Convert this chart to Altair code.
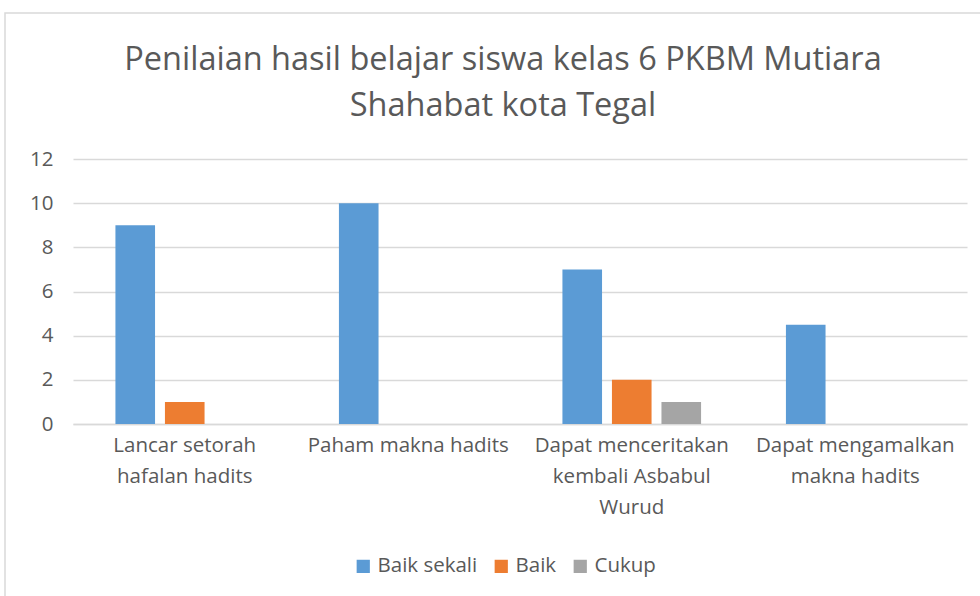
import altair as alt
import pandas as pd

categories = [
    "Lancar setorah hafalan hadits",
    "Paham makna hadits",
    "Dapat menceritakan kembali Asbabul Wurud",
    "Dapat mengamalkan makna hadits",
]
label_lines = {
    "Lancar setorah hafalan hadits": ["Lancar setorah", "hafalan hadits"],
    "Paham makna hadits": ["Paham makna hadits"],
    "Dapat menceritakan kembali Asbabul Wurud": ["Dapat menceritakan", "kembali Asbabul", "Wurud"],
    "Dapat mengamalkan makna hadits": ["Dapat mengamalkan", "makna hadits"],
}
series = ["Baik sekali", "Baik", "Cukup"]
colors = ["#5b9bd5", "#ed7d31", "#a5a5a5"]
baik_sekali = [9, 10, 7, 4.5]
baik = [1, 0, 2, 0]
cukup = [0, 0, 1, 0]

rows = []
for s, vals in zip(series, [baik_sekali, baik, cukup]):
    for c, v in zip(categories, vals):
        rows.append({"Kategori": c, "Seri": s, "Nilai": v})
df = pd.DataFrame(rows)

parts = []
for c in categories:
    arr = "[" + ",".join("'" + l + "'" for l in label_lines[c]) + "]"
    parts.append(f"datum.label == '{c}' ? {arr}")
label_expr = " : ".join(parts) + " : datum.label"

FONT = "Open Sans"
GRAY = "#595959"
FS = 20.5

bars = alt.Chart(df).mark_bar().encode(
    x=alt.X("Kategori:N", sort=categories, title=None,
            scale=alt.Scale(paddingInner=0, paddingOuter=0),
            axis=alt.Axis(labelAngle=0, labelExpr=label_expr, labelFontSize=FS,
                          labelColor=GRAY, labelFont=FONT, labelPadding=11,
                          labelLineHeight=31, ticks=False, domainColor="#d9d9d9",
                          domainWidth=1.5, labelLimit=300)),
    xOffset=alt.XOffset("Seri:N", sort=series,
                        scale=alt.Scale(paddingInner=0.2, paddingOuter=0.857)),
    y=alt.Y("Nilai:Q", title=None,
            scale=alt.Scale(domain=[0, 12]),
            axis=alt.Axis(values=[0, 2, 4, 6, 8, 10, 12], labelFontSize=FS,
                          labelColor=GRAY, labelFont=FONT, labelPadding=20,
                          ticks=False, domain=False, gridColor="#d9d9d9",
                          gridWidth=1.5)),
    color=alt.Color("Seri:N", sort=series,
                    scale=alt.Scale(domain=series, range=colors),
                    legend=alt.Legend(title=None, orient="none", direction="horizontal",
                                      legendX=280, legendY=397, symbolType="square",
                                      symbolSize=175, symbolStrokeWidth=0,
                                      labelFontSize=FS, labelColor=GRAY, labelFont=FONT,
                                      columnPadding=13, labelOffset=4)),
)

border = alt.Chart(pd.DataFrame({"b": [0]})).mark_rect(
    fill=None, stroke="#d9d9d9", strokeWidth=1.5, clip=False
).encode(x=alt.value(-68), x2=alt.value(1000), y=alt.value(-146), y2=alt.value(600))

chart = alt.layer(border, bars).properties(
    width=894, height=265,
    padding={"left": 73, "top": 159, "right": 13, "bottom": 172},
    autosize=alt.AutoSizeParams(type="none"),
    title=alt.TitleParams(
        ["Penilaian hasil belajar siswa kelas 6 PKBM Mutiara", "Shahabat kota Tegal"],
        fontSize=32.5, font=FONT, fontWeight="normal", color=GRAY,
        anchor="middle", dx=-17, lineHeight=46, offset=0, dy=110,
    ),
).configure_view(stroke=None)

chart.save("out.html", embed_options={"renderer": "svg", "actions": False})
